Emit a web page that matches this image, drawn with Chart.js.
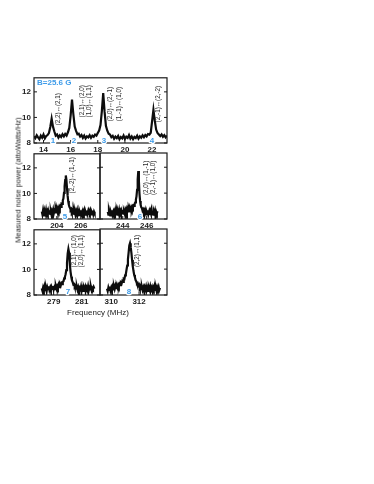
<!DOCTYPE html>
<html>
<head>
<meta charset="utf-8">
<script src="https://cdn.jsdelivr.net/npm/chart.js@4.4.0/dist/chart.umd.min.js"></script>
<style>
  body { margin: 0; background: #fff; width: 374px; height: 484px; position: relative; overflow: hidden; font-family: 'Liberation Sans', Arial, sans-serif; }
  canvas { position: absolute; }
  #ytitle { position: absolute; left: 18px; top: 180px; transform: translate(-50%, -50%) rotate(-90deg); font-size: 7.5px; color: #1a1a1a; white-space: nowrap; }
  #xtitle { position: absolute; left: 98px; top: 312px; transform: translate(-50%, -50%); font-size: 8px; color: #1a1a1a; white-space: nowrap; }
</style>
</head>
<body>
<canvas id="p-top"></canvas>
<canvas id="p-ml"></canvas>
<canvas id="p-mr"></canvas>
<canvas id="p-bl"></canvas>
<canvas id="p-br"></canvas>
<div id="ytitle">Measured noise power (attoWatts/Hz)</div>
<div id="xtitle">Frequency (MHz)</div>
<script>
// noise power traces (attoWatts/Hz), sampled on a uniform frequency sweep
const topStart = 13.3, topStep = 0.1;
const topPower = [
  8.52, 8.38, 8.61, 8.44, 8.30, 8.57, 8.41, 8.66, 8.36, 8.55,
  8.62, 8.78, 9.25, 9.90, 9.28, 8.90, 8.58, 8.66, 8.42, 8.60,
  8.47, 8.68, 8.52, 8.71, 8.58, 8.84, 9.18, 10.15, 11.40, 10.25,
  9.28, 8.95, 8.68, 8.73, 8.50, 8.62, 8.40, 8.58, 8.35, 8.52,
  8.44, 8.61, 8.40, 8.57, 8.48, 8.66, 8.58, 8.79, 8.98, 9.40,
  10.50, 11.90, 10.45, 9.34, 8.96, 8.72, 8.66, 8.45, 8.56, 8.33,
  8.50, 8.38, 8.55, 8.29, 8.47, 8.36, 8.58, 8.31, 8.49, 8.40,
  8.62, 8.35, 8.51, 8.30, 8.48, 8.39, 8.57, 8.34, 8.52, 8.41,
  8.60, 8.45, 8.63, 8.52, 8.70, 8.66, 8.80, 9.70, 10.60, 9.75,
  9.05, 8.78, 8.66, 8.54, 8.67, 8.48, 8.62, 8.45, 8.58
];

const midLeftStart = 202.75, midLeftStep = 0.05;
const midLeftPower = [
  8.58, 8.36, 8.66, 8.42, 8.29, 8.61, 8.45, 8.70, 8.38, 8.55,
  8.33, 8.64, 8.47, 8.69, 8.40, 8.58, 8.36, 8.62, 8.49, 8.72,
  8.44, 8.63, 8.52, 8.74, 8.55, 8.78, 8.60, 8.83, 8.70, 8.92,
  8.80, 9.02, 8.95, 9.20, 9.18, 9.45, 9.60, 10.05, 10.55, 11.05,
  11.40, 11.08, 10.40, 9.85, 9.40, 9.12, 8.95, 8.86, 8.72, 8.78,
  8.58, 8.68, 8.45, 8.62, 8.40, 8.57, 8.35, 8.60, 8.42, 8.66,
  8.38, 8.55, 8.31, 8.59, 8.44, 8.68, 8.37, 8.52, 8.30, 8.61,
  8.46, 8.65, 8.35, 8.56, 8.41, 8.67, 8.39, 8.58, 8.33, 8.62,
  8.47, 8.64, 8.36, 8.55, 8.42, 8.66, 8.38, 8.57, 8.45
];

const midRightStart = 242.75, midRightStep = 0.05;
const midRightPower = [
  8.55, 8.34, 8.62, 8.40, 8.28, 8.57, 8.43, 8.68, 8.35, 8.52,
  8.31, 8.60, 8.44, 8.66, 8.37, 8.55, 8.33, 8.61, 8.46, 8.69,
  8.40, 8.58, 8.36, 8.63, 8.47, 8.70, 8.42, 8.60, 8.45, 8.68,
  8.50, 8.72, 8.52, 8.74, 8.58, 8.78, 8.62, 8.83, 8.70, 8.88,
  8.76, 8.95, 8.86, 9.05, 9.02, 9.20, 9.28, 9.50, 9.75, 10.25,
  11.05, 11.70, 10.95, 9.95, 9.40, 9.08, 8.90, 8.84, 8.66, 8.74,
  8.52, 8.65, 8.41, 8.60, 8.36, 8.58, 8.44, 8.67, 8.38, 8.55,
  8.32, 8.61, 8.45, 8.70, 8.39, 8.57, 8.34, 8.62, 8.48, 8.66,
  8.37, 8.56, 8.43, 8.60
];

const botLeftStart = 278.15, botLeftStep = 0.05;
const botLeftPower = [
  8.52, 8.33, 8.60, 8.41, 8.66, 8.37, 8.55, 8.30, 8.62, 8.45,
  8.68, 8.39, 8.57, 8.34, 8.63, 8.48, 8.70, 8.42, 8.60, 8.46,
  8.72, 8.51, 8.69, 8.55, 8.78, 8.62, 8.84, 8.72, 8.92, 8.85,
  9.05, 9.08, 9.30, 9.40, 9.62, 9.95, 10.50, 11.25, 11.60, 11.30,
  10.45, 9.85, 9.45, 9.15, 9.02, 8.82, 8.86, 8.66, 8.74, 8.50,
  8.66, 8.42, 8.61, 8.37, 8.56, 8.44, 8.68, 8.36, 8.54, 8.32,
  8.62, 8.47, 8.66, 8.38, 8.58, 8.41, 8.69, 8.35, 8.57, 8.44,
  8.65, 8.39, 8.56, 8.47, 8.63, 8.50
];

const botRightStart = 309.7, botRightStep = 0.05;
const botRightPower = [
  8.48, 8.30, 8.58, 8.39, 8.65, 8.36, 8.55, 8.33, 8.62, 8.44,
  8.67, 8.46, 8.70, 8.52, 8.73, 8.58, 8.78, 8.64, 8.85, 8.76,
  8.95, 8.88, 9.08, 9.02, 9.26, 9.24, 9.52, 9.62, 9.95, 10.28,
  10.76, 11.28, 11.82, 12.00, 11.70, 11.25, 10.70, 10.20, 9.85, 9.55,
  9.38, 9.15, 9.05, 8.88, 8.92, 8.72, 8.80, 8.58, 8.70, 8.46,
  8.63, 8.39, 8.58, 8.34, 8.61, 8.45, 8.66, 8.37, 8.55, 8.31,
  8.60, 8.43, 8.67, 8.38, 8.56, 8.35, 8.62, 8.46, 8.68, 8.40,
  8.57, 8.33, 8.61, 8.45, 8.64, 8.39, 8.55
];

// axis ticks
const yTicks = [8, 10, 12];
const topTicks = [14, 16, 18, 20, 22];
const midLeftTicks = [204, 206];
const midRightTicks = [244, 246];
const botLeftTicks = [279, 281];
const botRightTicks = [310, 312];

// transition labels [freq, power at text start, text]
const topNotes = [
  [15.07, 9.39, '(2,2)↔(2,1)'],
  [16.84, 10.0, '(2,1)↔(2,0)'],
  [17.35, 10.0, '(1,0)↔(1,1)'],
  [18.90, 9.7, '(2,0)↔(2,-1)'],
  [19.56, 9.7, '(1,-1)↔(1,0)'],
  [22.44, 9.62, '(2,-1)↔(2,-2)']
];
const midLeftNotes = [[205.27, 10.0, '(2,-2)↔(1,-1)']];
const midRightNotes = [[245.95, 9.85, '(2,0)↔(1,-1)'], [246.53, 9.85, '(2,-1)↔(1,0)']];
const botLeftNotes = [[280.45, 10.16, '(2,1)↔(1,0)'], [280.95, 10.16, '(2,0)↔(1,1)']];
const botRightNotes = [[311.85, 10.16, '(2,2)↔(1,1)']];

// peak numbers [freq, power, label]
const topPeaks = [[14.70, 8.2, '1'], [16.25, 8.2, '2'], [18.46, 8.2, '3'], [21.99, 8.2, '4']];
const midLeftPeaks = [[204.68, 8.2, '5']];
const midRightPeaks = [[245.44, 8.2, '6']];
const botLeftPeaks = [[280.02, 8.25, '7']];
const botRightPeaks = [[311.27, 8.25, '8']];

const FONT = "'Liberation Sans', Arial, sans-serif";
const BLUE = '#3d9be9';

const framePlugin = {
  id: 'frame',
  afterDatasetsDraw(chart, args, opts) {
    const { ctx, chartArea: a, scales } = chart;
    ctx.save();
    ctx.strokeStyle = '#1a1a1a';
    ctx.lineWidth = 1.2;
    ctx.strokeRect(a.left, a.top, a.right - a.left, a.bottom - a.top);
    ctx.lineWidth = 1;
    ctx.beginPath();
    opts.xTicks.forEach(v => {
      const px = scales.x.getPixelForValue(v);
      ctx.moveTo(px, a.bottom); ctx.lineTo(px, a.bottom - 3);
    });
    yTicks.forEach(v => {
      const py = scales.y.getPixelForValue(v);
      ctx.moveTo(a.left, py); ctx.lineTo(a.left + 3, py);
      ctx.moveTo(a.right, py); ctx.lineTo(a.right - 3, py);
    });
    ctx.stroke();

    // transition labels, rotated
    ctx.fillStyle = '#2a2a2a';
    ctx.font = '6.3px ' + FONT;
    ctx.textAlign = 'left';
    ctx.textBaseline = 'middle';
    opts.notes.forEach(([f, p, t]) => {
      ctx.save();
      ctx.translate(scales.x.getPixelForValue(f), scales.y.getPixelForValue(p));
      ctx.rotate(-Math.PI / 2);
      ctx.fillText(t, 0, 0);
      ctx.restore();
    });

    // peak numbers, on a white halo so the trace does not hide them
    ctx.font = 'bold 8px ' + FONT;
    ctx.textAlign = 'center';
    ctx.strokeStyle = '#fff';
    ctx.lineWidth = 2.5;
    ctx.lineJoin = 'round';
    ctx.fillStyle = BLUE;
    opts.peaks.forEach(([f, p, t]) => {
      const px = scales.x.getPixelForValue(f), py = scales.y.getPixelForValue(p);
      ctx.strokeText(t, px, py);
      ctx.fillText(t, px, py);
    });

    if (opts.field) {
      ctx.textAlign = 'left';
      ctx.fillText(opts.field, scales.x.getPixelForValue(opts.fieldAt[0]), scales.y.getPixelForValue(opts.fieldAt[1]));
    }
    ctx.restore();
  }
};

function makePanel(id, box, start, step, power, xMin, xMax, xTicks, showY, yWidth, notes, peaks, field, fieldAt) {
  const cv = document.getElementById(id);
  cv.style.left = box.left + 'px';
  cv.style.top = box.top + 'px';
  cv.width = box.width;
  cv.height = box.height;
  const points = power.map((v, i) => ({ x: start + i * step, y: v }));
  return new Chart(cv.getContext('2d'), {
    type: 'line',
    data: { datasets: [{ data: points, borderColor: '#0d0d0d', borderWidth: 2.2, pointRadius: 0, tension: 0 }] },
    options: {
      responsive: false,
      animation: false,
      events: [],
      layout: { padding: { left: 0, right: box.padRight, top: 7, bottom: 0 } },
      plugins: {
        legend: { display: false },
        tooltip: { enabled: false },
        frame: { xTicks, notes, peaks, field, fieldAt }
      },
      scales: {
        x: {
          type: 'linear', min: xMin, max: xMax,
          afterBuildTicks: ax => { ax.ticks = xTicks.map(v => ({ value: v })); },
          ticks: { font: { family: FONT, size: 8, weight: 'bold' }, color: '#222', padding: 2, maxRotation: 0, autoSkip: false },
          grid: { display: false, drawTicks: false, tickLength: 0 },
          border: { display: false },
          afterFit: ax => { ax.height = 17; }
        },
        y: {
          min: 8, max: 13.1,
          afterBuildTicks: ax => { ax.ticks = yTicks.map(v => ({ value: v })); },
          ticks: { display: showY, font: { family: FONT, size: 8, weight: 'bold' }, color: '#222', padding: 3 },
          grid: { display: false, drawTicks: false, tickLength: 0 },
          border: { display: false },
          afterFit: ax => { ax.width = yWidth; }
        }
      }
    },
    plugins: [framePlugin]
  });
}

makePanel('p-top', { left: 0, top: 70, width: 175, height: 90, padRight: 8 },
  topStart, topStep, topPower, 13.3, 23.1, topTicks, true, 34, topNotes, topPeaks, 'B=25.6 G', [13.52, 12.71]);
makePanel('p-ml', { left: 0, top: 146, width: 104, height: 90, padRight: 4 },
  midLeftStart, midLeftStep, midLeftPower, 202.1, 207.6, midLeftTicks, true, 34, midLeftNotes, midLeftPeaks);
makePanel('p-mr', { left: 96, top: 146, width: 79, height: 90, padRight: 8 },
  midRightStart, midRightStep, midRightPower, 242.1, 247.7, midRightTicks, false, 4, midRightNotes, midRightPeaks);
makePanel('p-bl', { left: 0, top: 222, width: 104, height: 90, padRight: 4 },
  botLeftStart, botLeftStep, botLeftPower, 277.6, 282.3, botLeftTicks, true, 34, botLeftNotes, botLeftPeaks);
makePanel('p-br', { left: 96, top: 222, width: 79, height: 90, padRight: 8 },
  botRightStart, botRightStep, botRightPower, 309.2, 314.0, botRightTicks, false, 4, botRightNotes, botRightPeaks);
</script>
</body>
</html>
